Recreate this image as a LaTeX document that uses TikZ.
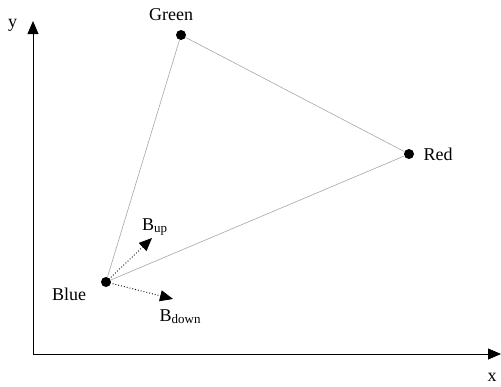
\documentclass[tikz,border=0pt]{standalone}
\usepackage{fontspec}
\setmainfont{Liberation Serif}
\usetikzlibrary{arrows.meta}
\newcommand{\lowidx}[1]{\raisebox{-0.25ex}{\fontsize{13}{15}\selectfont #1}}
\begin{document}
\begin{tikzpicture}[x=1pt,y=-1pt,
  lbl/.style={font=\fontsize{18}{20}\selectfont, inner sep=0pt, anchor=base west},
  dotpt/.style={circle, fill=black, inner sep=0pt, minimum size=10pt},
  axis/.style={line width=0.8pt, -{Triangle[length=13pt,width=11pt]}},
  side/.style={draw=gray!70, line width=0.6pt},
  vec/.style={dotted, line width=0.9pt, -{Triangle[length=13pt,width=11pt]}, shorten <=1pt}]
\useasboundingbox (0,0) rectangle (501,386);
% axes
\coordinate (O) at (33,354);
\coordinate (ytip) at (33,21);
\coordinate (xtip) at (501,354);
\draw[axis] (O) -- (ytip);
\draw[axis] (O) -- (xtip);
\node[lbl] (ylab) at (8,27) {y};
\node[lbl] (xlab) at (487.5,381) {x};
% color points
\node[dotpt] (G) at (181,35) {};
\node[dotpt] (R) at (409,154) {};
\node[dotpt] (B) at (106,282) {};
\node[lbl] (Glab) at (149,20) {Green};
\node[lbl] (Rlab) at (423.5,160) {Red};
\node[lbl] (Blab) at (52,300) {Blue};
% triangle
\draw[side] (G) -- (R) -- (B) -- (G);
% direction vectors
\coordinate (up) at (152,238);
\coordinate (down) at (173,299);
\draw[vec] (B.center) -- (up);
\draw[vec] (B.center) -- (down);
\node[lbl] (uplab) at (142,230) {B\lowidx{up}};
\node[lbl] (downlab) at (159.5,321) {B\lowidx{down}};
\end{tikzpicture}
\end{document}
